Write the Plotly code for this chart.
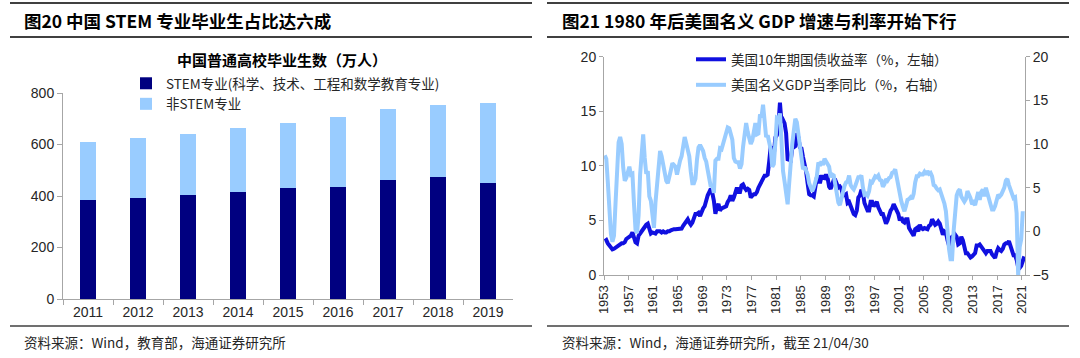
import plotly.graph_objects as go

# ---------------- Left chart data (万人) ----------------
bar_years = ["2011", "2012", "2013", "2014", "2015", "2016", "2017", "2018", "2019"]
stem_grads = [385, 394, 405, 416, 430, 436, 461, 473, 451]
non_stem_grads = [225, 233, 237, 247, 254, 272, 278, 282, 309]

# ---------------- Right chart data (quarterly, from 1953Q1) ----------------
series_start_year = 1953
us10y_yield = [
    3.1, 3.2, 2.9, 2.7,    # 1953
    2.5, 2.35, 2.4, 2.5,   # 1954
    2.6, 2.8, 2.9, 2.9,    # 1955
    2.9, 3.0, 3.3, 3.4,    # 1956
    3.4, 3.6, 3.9, 3.5,    # 1957
    3.0, 2.9, 3.6, 3.8,    # 1958
    4.0, 4.2, 4.5, 4.6,    # 1959
    4.7, 4.3, 3.8, 3.9,    # 1960
    3.8, 3.8, 4.0, 4.0,    # 1961
    4.0, 3.9, 4.0, 3.9,    # 1962
    3.9, 4.0, 4.0, 4.1,    # 1963
    4.2, 4.2, 4.2, 4.2,    # 1964
    4.2, 4.2, 4.25, 4.5,   # 1965
    4.7, 4.75, 5.1, 4.8,   # 1966
    4.6, 4.8, 5.2, 5.6,    # 1967
    5.6, 5.7, 5.4, 5.8,    # 1968
    6.1, 6.3, 6.9, 7.3,    # 1969
    7.6, 7.9, 7.5, 6.8,    # 1970
    5.6, 6.3, 6.5, 5.9,    # 1971
    6.1, 6.2, 6.3, 6.3,    # 1972
    6.7, 6.9, 7.3, 6.8,    # 1973
    7.1, 7.6, 8.0, 7.6,    # 1974
    7.6, 8.2, 8.3, 8.0,    # 1975
    7.8, 7.9, 7.8, 7.1,    # 1976
    7.3, 7.4, 7.4, 7.6,    # 1977
    8.0, 8.3, 8.5, 8.9,    # 1978
    9.1, 9.1, 9.2, 10.4,   # 1979
    11.8, 10.2, 11.0, 12.6,  # 1980
    12.8, 13.8, 15.8, 14.0,  # 1981
    14.2, 13.9, 13.0, 10.6,  # 1982
    10.5, 10.5, 11.6, 11.7,  # 1983
    11.8, 13.0, 12.6, 11.7,  # 1984
    11.6, 10.8, 10.3, 9.5,   # 1985
    8.4, 7.4, 7.3, 7.3,    # 1986
    7.2, 8.3, 8.9, 9.1,    # 1987
    8.4, 9.0, 9.0, 8.9,    # 1988
    9.2, 8.9, 8.1, 7.9,    # 1989
    8.4, 8.7, 8.7, 8.4,    # 1990
    8.0, 8.1, 7.9, 7.3,    # 1991
    7.3, 7.4, 6.6, 6.7,    # 1992
    6.3, 5.9, 5.6, 5.5,    # 1993
    5.9, 7.1, 7.3, 7.8,    # 1994
    7.5, 6.6, 6.3, 5.9,    # 1995
    5.9, 6.7, 6.7, 6.3,    # 1996
    6.5, 6.7, 6.2, 5.9,    # 1997
    5.6, 5.6, 5.2, 4.7,    # 1998
    5.0, 5.5, 5.9, 6.1,    # 1999
    6.5, 6.2, 5.9, 5.6,    # 2000
    5.0, 5.3, 4.9, 4.8,    # 2001
    5.1, 5.1, 4.3, 4.0,    # 2002
    3.9, 3.6, 4.2, 4.3,    # 2003
    4.0, 4.6, 4.3, 4.2,    # 2004
    4.3, 4.2, 4.2, 4.5,    # 2005
    4.6, 5.1, 4.9, 4.6,    # 2006
    4.7, 4.9, 4.7, 4.3,    # 2007
    3.7, 4.0, 3.9, 3.2,    # 2008
    2.7, 3.3, 3.5, 3.5,    # 2009
    3.7, 3.5, 2.8, 2.9,    # 2010
    3.5, 3.2, 2.4, 2.0,    # 2011
    2.0, 1.8, 1.6, 1.7,    # 2012
    1.9, 2.0, 2.7, 2.7,    # 2013
    2.8, 2.6, 2.5, 2.3,    # 2014
    2.0, 2.2, 2.2, 2.2,    # 2015
    1.9, 1.75, 1.55, 2.1,  # 2016
    2.45, 2.3, 2.2, 2.4,   # 2017
    2.8, 2.9, 2.9, 3.1,    # 2018
    2.65, 2.3, 1.8, 1.8,   # 2019
    1.4, 0.7, 0.65, 0.85,  # 2020
    1.3, 1.7,              # 2021
]
us_nominal_gdp_yoy = [
    8.7, 8.3, 5.6, 2.1,    # 1953
    -0.3, -1.2, -0.5, 3.2,  # 1954
    8.2, 10.2, 10.8, 10.0,  # 1955
    7.3, 5.8, 6.1, 6.8,    # 1956
    7.4, 6.5, 6.6, 3.2,    # 1957
    0.2, -0.2, 1.8, 6.5,   # 1958
    9.9, 11.1, 8.4, 6.6,   # 1959
    6.9, 4.0, 3.5, 1.6,    # 1960
    0.4, 3.3, 5.4, 8.2,    # 1961
    9.2, 8.6, 7.6, 6.2,    # 1962
    5.8, 5.5, 6.6, 7.0,    # 1963
    7.8, 7.5, 7.4, 6.5,    # 1964
    7.6, 8.1, 8.6, 9.8,    # 1965
    10.8, 10.1, 9.4, 8.6,  # 1966
    6.8, 5.5, 5.5, 6.0,    # 1967
    8.2, 9.6, 9.9, 9.5,    # 1968
    9.2, 8.4, 8.0, 7.0,    # 1969
    5.7, 5.1, 5.3, 4.4,    # 1970
    8.1, 8.3, 8.3, 9.5,    # 1971
    9.4, 10.1, 10.4, 11.2,  # 1972
    11.9, 11.8, 11.2, 10.5,  # 1973
    8.4, 8.0, 7.9, 7.9,    # 1974
    7.2, 7.7, 9.7, 11.1,   # 1975
    12.4, 11.4, 10.4, 10.0,  # 1976
    10.4, 11.5, 12.4, 11.1,  # 1977
    11.2, 13.4, 13.1, 14.5,  # 1978
    12.9, 10.8, 11.0, 10.1,  # 1979
    9.4, 7.4, 7.7, 10.1,   # 1980
    13.0, 12.9, 13.5, 10.4,  # 1981
    6.9, 5.7, 3.8, 3.1,    # 1982
    5.5, 8.4, 10.0, 11.5,  # 1983
    12.9, 12.5, 11.2, 9.6,  # 1984
    8.2, 7.1, 7.4, 7.0,    # 1985
    6.5, 5.5, 5.0, 4.6,    # 1986
    5.0, 5.8, 6.3, 7.9,    # 1987
    7.5, 8.0, 7.6, 8.3,    # 1988
    8.0, 7.6, 7.4, 6.2,    # 1989
    6.5, 6.4, 5.4, 4.1,    # 1990
    3.3, 3.0, 3.9, 4.5,    # 1991
    5.2, 5.6, 5.7, 6.4,    # 1992
    5.3, 5.0, 4.8, 5.2,    # 1993
    5.9, 6.2, 6.2, 6.4,    # 1994
    5.0, 4.2, 4.3, 4.1,    # 1995
    4.6, 5.7, 5.6, 6.0,    # 1996
    6.3, 6.2, 6.4, 5.9,    # 1997
    5.8, 5.1, 5.4, 6.0,    # 1998
    5.8, 6.1, 6.2, 6.7,    # 1999
    6.8, 7.1, 6.0, 5.0,    # 2000
    4.4, 3.4, 2.8, 2.3,    # 2001
    2.9, 3.6, 3.7, 3.9,    # 2002
    3.7, 4.3, 5.6, 6.3,    # 2003
    6.3, 6.6, 6.5, 6.5,    # 2004
    6.8, 6.5, 6.9, 6.6,    # 2005
    6.7, 6.3, 5.3, 5.2,    # 2006
    4.9, 4.7, 4.8, 4.3,    # 2007
    3.5, 3.2, 2.3, -0.1,   # 2008
    -2.0, -3.2, -3.2, 0.0,  # 2009
    2.5, 4.1, 4.6, 4.8,    # 2010
    4.0, 3.6, 3.4, 3.7,    # 2011
    4.6, 4.2, 3.8, 3.1,    # 2012
    3.3, 3.0, 3.8, 4.5,    # 2013
    3.6, 4.5, 4.8, 4.0,    # 2014
    5.0, 4.2, 3.6, 3.1,    # 2015
    2.5, 2.5, 2.9, 3.8,    # 2016
    4.2, 4.0, 4.2, 4.6,    # 2017
    5.0, 5.8, 6.0, 5.3,    # 2018
    4.7, 4.0, 3.8, 3.9,    # 2019
    2.1, -5.0, -1.8, -0.9,  # 2020
    2.3,                   # 2021
]
x_tick_years = list(range(1953, 2022, 4))

# ---------------- helpers ----------------
W, H = 1080, 358
def px(x):
    return x / W
def py(y):
    return 1 - y / H

yield_x = [series_start_year + i * 0.25 + 0.125 for i in range(len(us10y_yield))]
gdp_x = [series_start_year + i * 0.25 + 0.125 for i in range(len(us_nominal_gdp_yoy))]

NUM_FONT = "Liberation Sans, Arial, sans-serif"
CJK_FONT = "Noto Sans CJK SC, sans-serif"
AXIS_GREY = "#A6A6A6"
TXT = "#262626"

fig = go.Figure()

fig.add_trace(go.Bar(
    x=bar_years, y=stem_grads, name="STEM专业(科学、技术、工程和数学教育专业)",
    marker=dict(color="#000080", line=dict(width=0)), width=0.33,
    xaxis="x", yaxis="y", legend="legend"))
fig.add_trace(go.Bar(
    x=bar_years, y=non_stem_grads, name="非STEM专业",
    marker=dict(color="#99CCFF", line=dict(width=0)), width=0.33,
    xaxis="x", yaxis="y", legend="legend"))

fig.add_trace(go.Scatter(
    x=yield_x, y=us10y_yield, mode="lines", name="美国10年期国债收益率（%，左轴）",
    line=dict(color="#1010E0", width=4), xaxis="x2", yaxis="y2",
    legend="legend2", legendgroup="a"))
fig.add_trace(go.Scatter(
    x=gdp_x, y=us_nominal_gdp_yoy, mode="lines", name="美国名义GDP当季同比（%，右轴）",
    line=dict(color="#99CCFF", width=4), xaxis="x2", yaxis="y3",
    legend="legend2", legendgroup="b"))

axis_common = dict(showline=True, linecolor=AXIS_GREY, linewidth=1, ticks="outside",
                   tickcolor=AXIS_GREY, showgrid=False, zeroline=False, automargin=False,
                   tickfont=dict(family=NUM_FONT, size=14, color=TXT))

fig.update_layout(
    template="none",
    width=W, height=H, margin=dict(l=0, r=0, t=0, b=0, pad=0, autoexpand=False),
    paper_bgcolor="white", plot_bgcolor="white",
    barmode="stack", showlegend=True,
    xaxis=dict(domain=[px(63), px(513)], anchor="y", type="category",
               tickson="boundaries", ticklen=5, **axis_common),
    yaxis=dict(domain=[py(299), py(93)], anchor="x", range=[0, 800], dtick=200,
               ticklen=5, **axis_common),
    xaxis2=dict(domain=[px(604), px(1025)], anchor="y2", range=[1953, 2021.49],
                tickmode="array", tickvals=x_tick_years, tickangle=-90, ticklen=4,
                **{**axis_common, "tickfont": dict(family=NUM_FONT, size=13, color=TXT)}),
    yaxis2=dict(domain=[py(275), py(56.7)], anchor="x2", range=[0, 20], dtick=5,
                ticklen=4, **axis_common),
    yaxis3=dict(overlaying="y2", anchor="x2", side="right", range=[-5, 20], dtick=5,
                ticklen=4, **axis_common),
    legend=dict(x=px(126), y=py(68), xanchor="left", yanchor="top",
                bgcolor="rgba(0,0,0,0)", borderwidth=0, traceorder="normal",
                font=dict(family=CJK_FONT, size=13.5, color=TXT)),
    legend2=dict(x=px(691), y=py(44), xanchor="left", yanchor="top",
                 bgcolor="rgba(0,0,0,0)", borderwidth=0, traceorder="grouped", tracegroupgap=5,
                 font=dict(family=CJK_FONT, size=13.5, color=TXT)),
)

annotations = [
    dict(text="<b>图20 中国 STEM 专业毕业生占比达六成</b>", x=px(22), y=py(21),
         font=dict(family=CJK_FONT, size=17.5, color="#000000")),
    dict(text="<b>图21 1980 年后美国名义 GDP 增速与利率开始下行</b>", x=px(560), y=py(21),
         font=dict(family=CJK_FONT, size=17.5, color="#000000")),
    dict(text="资料来源：Wind，教育部，海通证券研究所", x=px(22), y=py(342),
         font=dict(family=CJK_FONT, size=13.5, color=TXT)),
    dict(text="资料来源：Wind，海通证券研究所，截至 21/04/30", x=px(560), y=py(342),
         font=dict(family=CJK_FONT, size=13.5, color=TXT)),
]
for a in annotations:
    fig.add_annotation(xref="paper", yref="paper", xanchor="left", yanchor="middle",
                       showarrow=False, **a)
fig.add_annotation(xref="paper", yref="paper", x=px(282), y=py(60), xanchor="center",
                   yanchor="middle", showarrow=False,
                   text="<b>中国普通高校毕业生数（万人）</b>",
                   font=dict(family=CJK_FONT, size=15, color="#000000"))

rule_color = "#404040"
for (x0, x1) in [(10, 532), (547, 1069)]:
    for (yy, w) in [(3, 2), (37, 2), (326, 1.5)]:
        fig.add_shape(type="line", xref="paper", yref="paper",
                      x0=px(x0), x1=px(x1), y0=py(yy), y1=py(yy),
                      line=dict(color=rule_color, width=w))

fig.write_html(
    "out.html",
    config={"displayModeBar": False},
    post_script="document.body.style.margin='0px';document.body.style.overflow='hidden';",
)
